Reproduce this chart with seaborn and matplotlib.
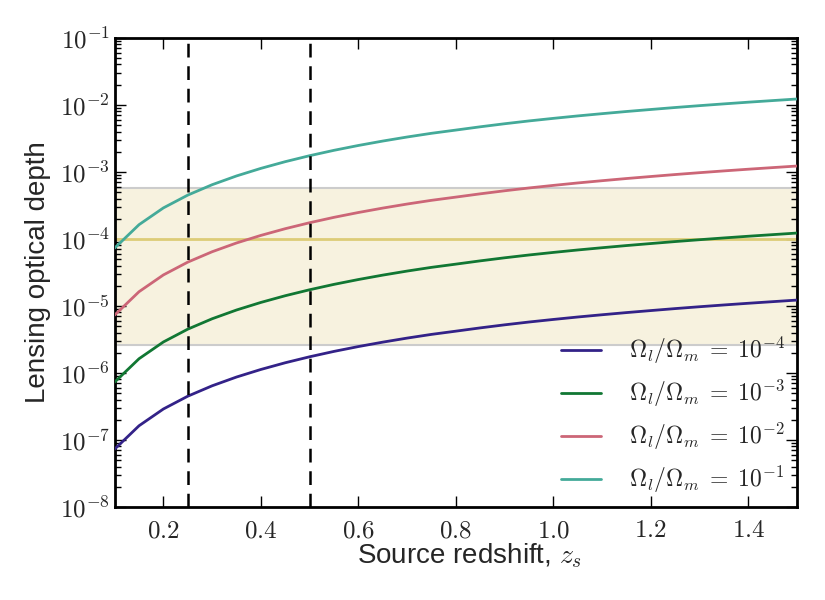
import seaborn as sns
import matplotlib.pyplot as plt
import matplotlib.ticker as mticker
import pandas as pd
import numpy as np

# source redshift samples
z_s = [0.10, 0.15, 0.20, 0.25, 0.30, 0.35, 0.40, 0.45, 0.50, 0.55,
       0.60, 0.65, 0.70, 0.75, 0.80, 0.85, 0.90, 0.95, 1.00, 1.05,
       1.10, 1.15, 1.20, 1.25, 1.30, 1.35, 1.40, 1.45, 1.50]
# optical depth per unit Omega_l/Omega_m
tau_unit = [7.3e-4, 1.63e-3, 2.9e-3, 4.5e-3, 6.43e-3, 8.69e-3, 1.127e-2, 1.419e-2, 1.742e-2, 2.096e-2,
            2.475e-2, 2.88e-2, 3.31e-2, 3.76e-2, 4.2e-2, 4.7e-2, 5.22e-2, 5.75e-2, 6.28e-2, 6.83e-2,
            7.38e-2, 7.95e-2, 8.52e-2, 9.12e-2, 9.72e-2, 0.1033, 0.1095, 0.1157, 0.1222]
omega_ratio = [1e-4, 1e-3, 1e-2, 1e-1]
ratio_labels = [r"$\Omega_l/\Omega_m \;=\; 10^{-4}$", r"$\Omega_l/\Omega_m \;=\; 10^{-3}$",
                r"$\Omega_l/\Omega_m \;=\; 10^{-2}$", r"$\Omega_l/\Omega_m \;=\; 10^{-1}$"]
colors = ["#332288", "#117733", "#CC6677", "#44AA99"]

band_low, band_high = 2.6e-6, 5.8e-4
tau_obs = 1e-4
z_marks = [0.25, 0.5]

rows = []
for r, lab in zip(omega_ratio, ratio_labels):
    for z, t in zip(z_s, tau_unit):
        rows.append({"z": z, "tau": t * r, "label": lab})
df = pd.DataFrame(rows)

sns.set_style("ticks")
plt.rcParams["font.family"] = ["Liberation Sans", "DejaVu Sans"]
plt.rcParams["mathtext.fontset"] = "cm"

fig = plt.figure(figsize=(8.25, 6), dpi=100)
ax = fig.add_axes([0.139, 0.155, 0.827, 0.782])

ax.axhspan(band_low, band_high, facecolor="#F7F2DF", edgecolor="#CCCCCC", lw=1.5, zorder=0)
ax.axhline(tau_obs, color="#DDCC77", lw=2, zorder=1)

sns.lineplot(data=df, x="z", y="tau", hue="label", hue_order=ratio_labels,
             palette=colors, lw=2, ax=ax, zorder=3)

for zm in z_marks:
    ax.axvline(zm, color="black", lw=1.8, dashes=(5.5, 3.5), zorder=4)

ax.set_yscale("log")
ax.set_xlim(0.1, 1.5)
ax.set_ylim(1e-8, 1e-1)

ax.xaxis.set_major_locator(mticker.MultipleLocator(0.2))
ax.xaxis.set_major_formatter(mticker.FuncFormatter(lambda v, p: r"$%.1f$" % v))
ax.yaxis.set_major_locator(mticker.LogLocator(base=10, numticks=20))
ax.yaxis.set_minor_locator(mticker.LogLocator(base=10, subs=np.arange(2, 10), numticks=20))
ax.yaxis.set_minor_formatter(mticker.NullFormatter())
ax.yaxis.set_major_formatter(mticker.FuncFormatter(lambda v, p: r"$10^{%d}$" % round(np.log10(v))))

ax.tick_params(which="both", direction="in", top=True, right=True, labelsize=18, color="black")
ax.tick_params(which="major", length=8, width=1)
ax.tick_params(which="minor", length=4, width=1)
ax.tick_params(axis="x", pad=8)
for sp in ax.spines.values():
    sp.set_linewidth(2)
    sp.set_color("black")

ax.set_xlabel(r"Source redshift, $z_s$", fontsize=20)
ax.xaxis.set_label_coords(0.52, -0.072)
ax.set_ylabel("Lensing optical depth", fontsize=20, labelpad=6)

ax.legend(frameon=False, loc="lower right", fontsize=17, handlelength=1.7,
          handletextpad=1.2, labelspacing=0.5, borderaxespad=0.1)

plt.savefig("out.png", dpi=100)
